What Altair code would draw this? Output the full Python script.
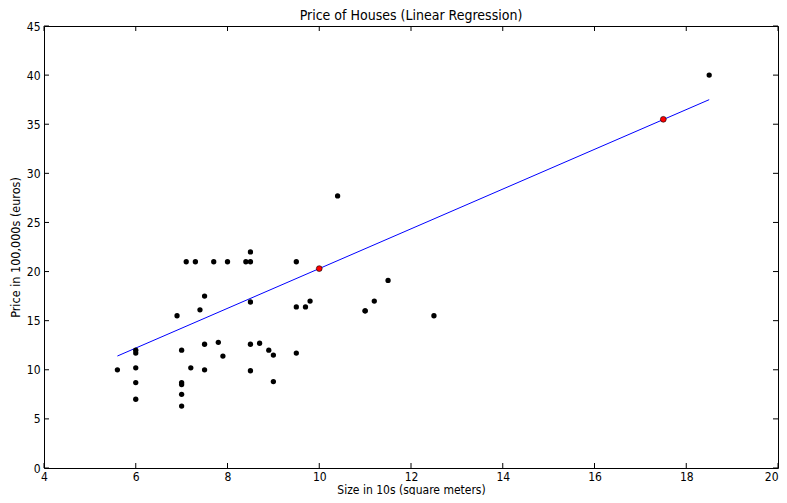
import altair as alt
import pandas as pd

# Observed data (size in 10s m^2, price in 100,000s euros)
size = [5.6, 6.0, 6.0, 6.0, 6.0, 6.0, 6.9, 7.0, 7.0, 7.0, 7.0, 7.0, 7.1, 7.2, 7.3,
        7.4, 7.5, 7.5, 7.5, 7.7, 7.8, 7.9, 8.0, 8.4, 8.5, 8.5, 8.5, 8.5, 8.5, 8.7,
        8.9, 9.0, 9.0, 9.5, 9.5, 9.5, 9.7, 9.8, 10.4, 11.0, 11.0, 11.2, 11.5, 12.5, 18.5]
price = [10.0, 12.0, 11.7, 10.2, 8.7, 7.0, 15.5, 12.0, 8.7, 8.5, 7.5, 6.3, 21.0, 10.2, 21.0,
         16.1, 17.5, 12.6, 10.0, 21.0, 12.8, 11.4, 21.0, 21.0, 21.0, 22.0, 16.9, 12.6, 9.9, 12.7,
         12.0, 11.5, 8.8, 21.0, 16.4, 11.7, 16.4, 17.0, 27.7, 16.0, 16.0, 17.0, 19.1, 15.5, 40.0]

# Regression line endpoints
line_x = [5.6, 18.5]
line_y = [11.4, 37.5]

# Predicted points
pred_x = [10.0, 17.5]
pred_y = [20.3, 35.5]

x_ticks = [4, 6, 8, 10, 12, 14, 16, 18, 20]
y_ticks = [0, 5, 10, 15, 20, 25, 30, 35, 40, 45]

W, H = 734, 442
TL = 5
FONT = "DejaVu Sans Condensed, DejaVu Sans"

pts = pd.DataFrame({"x": size, "y": price})
ln = pd.DataFrame({"x": line_x, "y": line_y})
pr = pd.DataFrame({"x": pred_x, "y": pred_y})
xt = pd.DataFrame({"x": x_ticks})
yt = pd.DataFrame({"y": y_ticks})

xs = alt.Scale(domain=[4, 20], nice=False, zero=False)
ys = alt.Scale(domain=[0, 45], nice=False, zero=False)

xax = alt.Axis(values=x_ticks, grid=False, tickSize=0, labelPadding=3, domain=False,
               labelFlush=False, labelOverlap=False,
               labelAlign={"condition": {"test": "datum.value >= 20", "value": "right"},
                           "value": "center"},
               labelFontSize=12, titleFontSize=12, titlePadding=2, labelColor="black",
               titleColor="black", titleFontWeight="normal", labelFont=FONT, titleFont=FONT)
yax = alt.Axis(values=y_ticks, grid=False, tickSize=0, labelPadding=4, domain=False,
               labelFlush=False, labelOverlap=False,
               labelFontSize=12, titleFontSize=12.5, titlePadding=4, labelColor="black",
               titleColor="black", titleFontWeight="normal", labelFont=FONT, titleFont=FONT)

X = alt.X("x:Q", scale=xs, axis=xax, title="Size in 10s (square meters)")
Y = alt.Y("y:Q", scale=ys, axis=yax, title="Price in 100,000s (euros)")

line = alt.Chart(ln).mark_line(color="blue", strokeWidth=1).encode(x=X, y=Y)
scatter = alt.Chart(pts).mark_circle(color="black", size=28, opacity=1).encode(x=X, y=Y)
pred = alt.Chart(pr).mark_point(filled=True, fill="red", stroke="black", strokeWidth=0.6,
                                size=34, opacity=1, shape="circle").encode(x=X, y=Y)

tick_b = alt.Chart(xt).mark_rule(color="black", strokeWidth=1).encode(
    x=X, y=alt.value(H), y2=alt.value(H - TL))
tick_t = alt.Chart(xt).mark_rule(color="black", strokeWidth=1).encode(
    x=X, y=alt.value(0), y2=alt.value(TL))
tick_l = alt.Chart(yt).mark_rule(color="black", strokeWidth=1).encode(
    y=Y, x=alt.value(0), x2=alt.value(TL))
tick_r = alt.Chart(yt).mark_rule(color="black", strokeWidth=1).encode(
    y=Y, x=alt.value(W), x2=alt.value(W - TL))

chart = alt.layer(tick_b, tick_t, tick_l, tick_r, line, scatter, pred).properties(
    width=W, height=H,
    background="white",
    title=alt.TitleParams("Price of Houses (Linear Regression)", fontSize=14,
                          font=FONT, fontWeight="normal", color="black", offset=5,
                          dy=8, frame="group"),
    autosize=alt.AutoSizeParams(type="none"),
    padding={"left": 36, "top": 18, "right": 1, "bottom": 27},
).configure_view(stroke="black", strokeWidth=1)

chart.save("out.html", embed_options={"renderer": "svg", "actions": False})
